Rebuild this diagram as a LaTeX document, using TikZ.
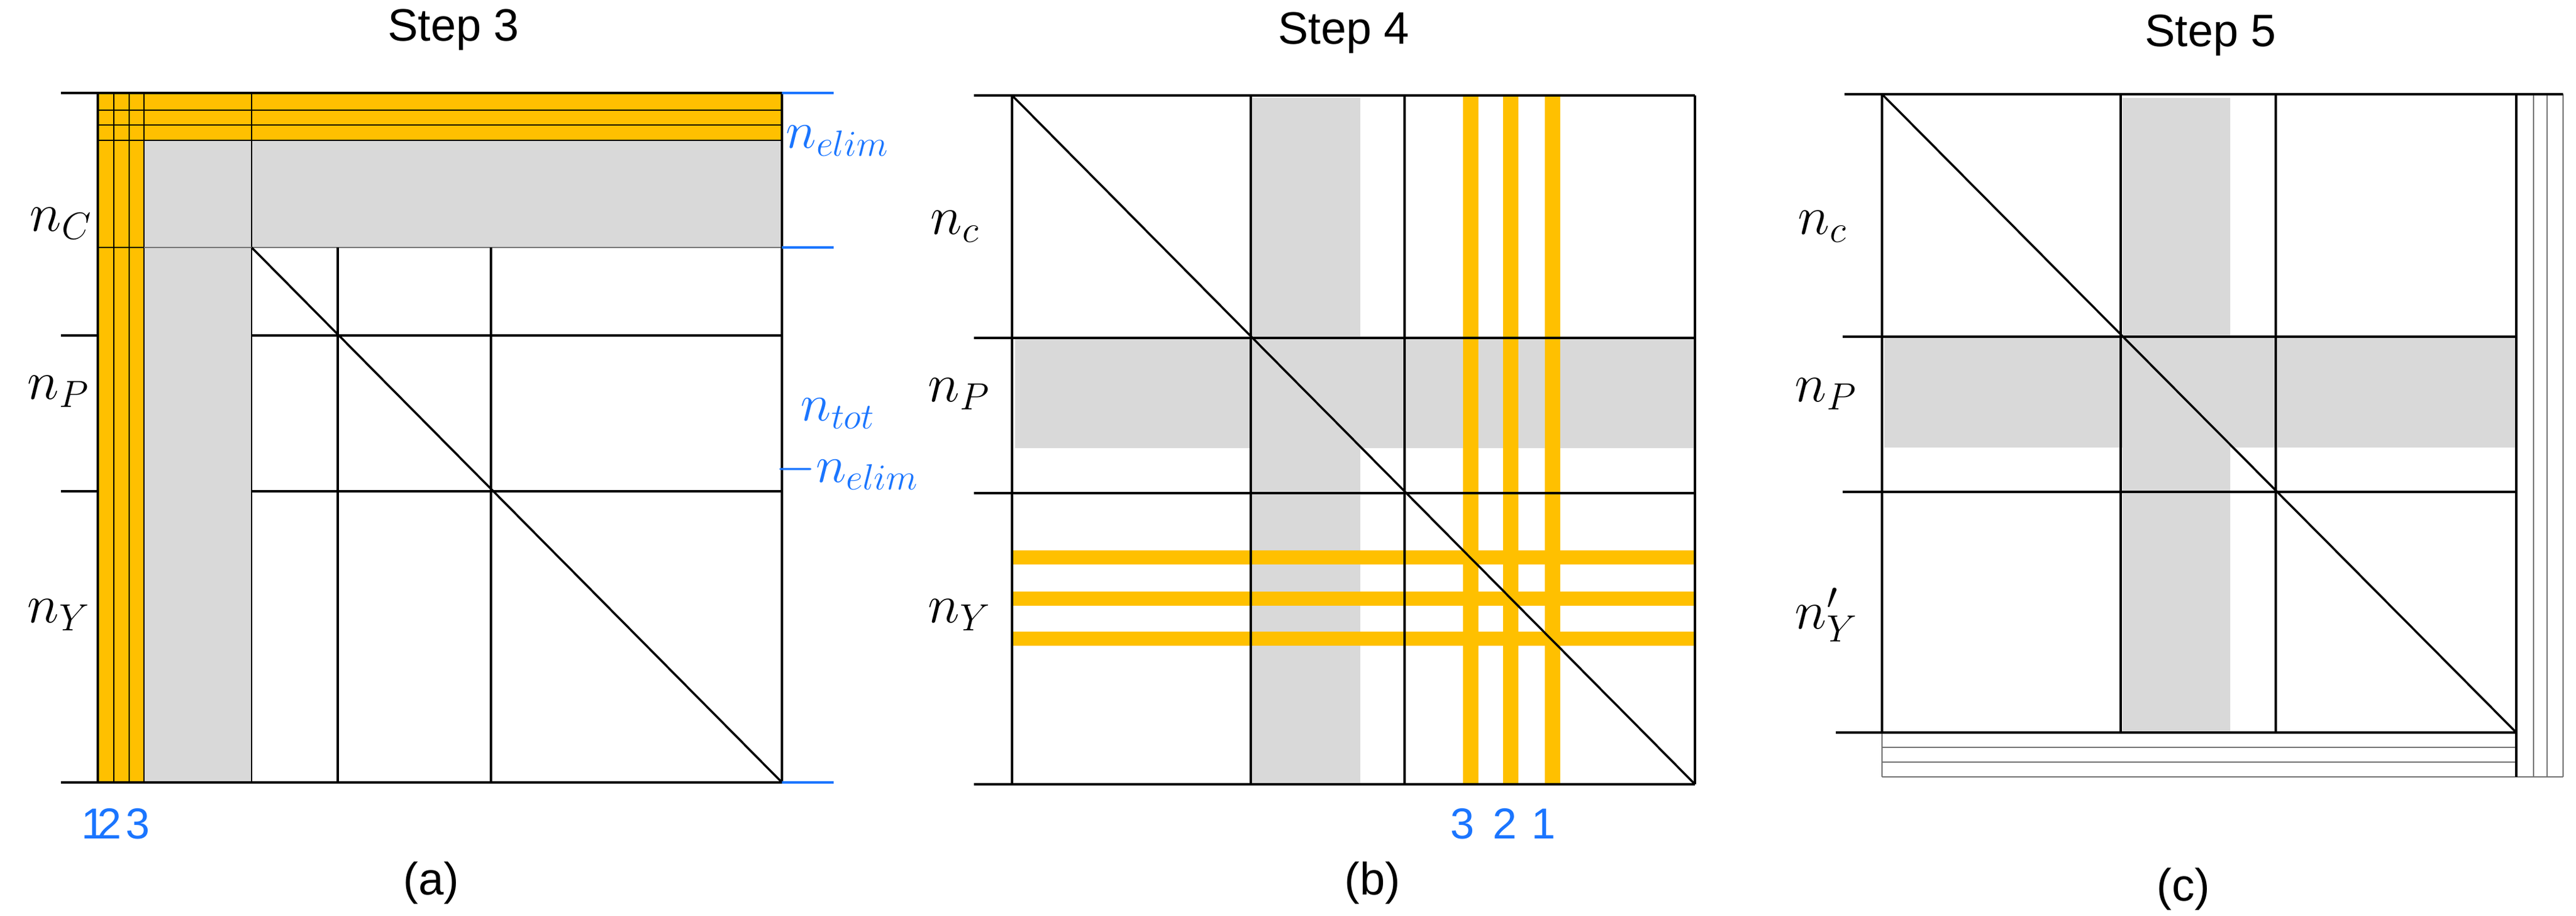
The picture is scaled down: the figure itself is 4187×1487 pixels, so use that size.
\RequirePackage{fix-cm}
\documentclass[tikz,border=0pt]{standalone}
\usepackage{fontspec}
\newfontfamily\sff{Liberation Sans}
\definecolor{yel}{HTML}{FFC000}
\definecolor{gry}{HTML}{D9D9D9}
\definecolor{blu}{HTML}{1A75FF}
\begin{document}
\begin{tikzpicture}[x=0.01cm,y=-0.01cm,
  ln/.style={line width=1pt,black},
  thin/.style={line width=0.6pt,black},
  gl/.style={line width=0.6pt,black!55},
  ttl/.style={font=\sff\fontsize{21}{25}\selectfont},
  lab/.style={font=\fontsize{25}{30}\selectfont,anchor=west,inner sep=0pt},
  bl/.style={font=\fontsize{24}{28}\selectfont,text=blu,anchor=west,inner sep=0pt},
  num/.style={font=\sff\fontsize{20}{24}\selectfont,text=blu,inner sep=0pt},
  tick/.style={line width=1pt,blu}]
\useasboundingbox (0,0) rectangle (4187,1487);
% ---------------- (a) Step 3
\node[ttl] (t3) at (737,48) {Step 3};
\node[ttl] (ca) at (701,1434) {(a)};
\fill[gry] (234,228) rectangle (1271,402);
\fill[gry] (234,228) rectangle (409,1271);
\fill[yel] (159,151) rectangle (234,1271);
\fill[yel] (159,151) rectangle (1271,228);
\foreach \x in {185,210,234,409} \draw[thin] (\x,151) -- (\x,1271);
\foreach \y in {179,203,228} \draw[thin] (159,\y) -- (1271,\y);
\draw[gl] (234,402) -- (1271,402);
\draw[thin] (159,402) -- (234,402);
\draw[ln] (99,151) -- (1271,151);
\draw[ln] (99,1271) -- (1271,1271);
\draw[ln] (159,151) -- (159,1271);
\draw[ln] (1271,151) -- (1271,1271);
\draw[ln] (99,545) -- (159,545); \draw[ln] (99,798) -- (159,798);
\draw[ln] (409,545) -- (1271,545); \draw[ln] (409,798) -- (1271,798);
\draw[ln] (549,402) -- (549,1271); \draw[ln] (798,402) -- (798,1271);
\draw[ln] (409,402) -- (1271,1271);
\draw[tick] (1271,151) -- (1355,151);
\draw[tick] (1271,402) -- (1355,402);
\draw[tick] (1271,1271) -- (1355,1271);
\node[lab] (a1) at (48,363) {$n_C$};
\node[lab] (a2) at (44,636) {$n_P$};
\node[lab] (a3) at (44,999) {$n_Y$};
\node[bl] (ae) at (1277,229) {$n_{elim}$};
\node[bl] (at) at (1301,672) {$n_{tot}$};
\node[bl] (am) at (1260,765) {$-n_{elim}$};
\node[num] (a4) at (152,1338) {1};
\node[num] (a5) at (178,1338) {2};
\node[num] (a6) at (224,1338) {3};
% ---------------- (b) Step 4
\node[ttl] (t4) at (2184,53) {Step 4};
\node[ttl] (cb) at (2231,1434) {(b)};
\fill[gry] (2033,159) rectangle (2211,1274);
\fill[gry] (1650,549) rectangle (2755,728);
\foreach \x in {2390,2455,2523} \draw[yel,line width=25*0.01cm] (\x,155) -- (\x,1274);
\foreach \y in {905,972,1037} \draw[yel,line width=23*0.01cm] (1645,\y) -- (2755,\y);
\draw[ln] (1583,155) -- (2755,155);
\draw[ln] (1583,549) -- (2755,549);
\draw[ln] (1583,801) -- (2755,801);
\draw[ln] (1583,1274) -- (2755,1274);
\foreach \x in {1645,2033,2283,2755} \draw[ln] (\x,155) -- (\x,1274);
\draw[ln] (1645,155) -- (2755,1274);
\node[lab] (b1) at (1512,368) {$n_c$};
\node[lab] (b2) at (1508,640) {$n_P$};
\node[lab] (b3) at (1508,999) {$n_Y$};
\node[num] (b4) at (2377,1338) {3};
\node[num] (b5) at (2446,1338) {2};
\node[num] (b6) at (2509,1338) {1};
% ---------------- (c) Step 5
\node[ttl] (t5) at (3593,57) {Step 5};
\node[ttl] (cc) at (3549,1444) {(c)};
\fill[gry] (3450,159) rectangle (3625,1190);
\fill[gry] (3063,547) rectangle (4090,727);
\foreach \y in {1214,1238,1262} \draw[gl] (3059,\y) -- (4090,\y);
\draw[gl] (3059,1190) -- (3059,1262);
\foreach \x in {4118,4140,4166} \draw[gl] (\x,153) -- (\x,1262);
\draw[gl] (4090,1262) -- (4166,1262);
\draw[ln] (2998,153) -- (4166,153);
\draw[ln] (2995,547) -- (4090,547);
\draw[ln] (2995,799) -- (4090,799);
\draw[ln] (2984,1190) -- (4090,1190);
\foreach \x in {3059,3447,3699} \draw[ln] (\x,153) -- (\x,1190);
\draw[line width=1.3pt] (4090,153) -- (4090,1262);
\draw[ln] (3059,153) -- (4090,1190);
\node[lab] (c1) at (2922,368) {$n_c$};
\node[lab] (c2) at (2917,640) {$n_P$};
\node[lab] (c3) at (2917,999) {$n'_Y$};
\end{tikzpicture}
\end{document}
